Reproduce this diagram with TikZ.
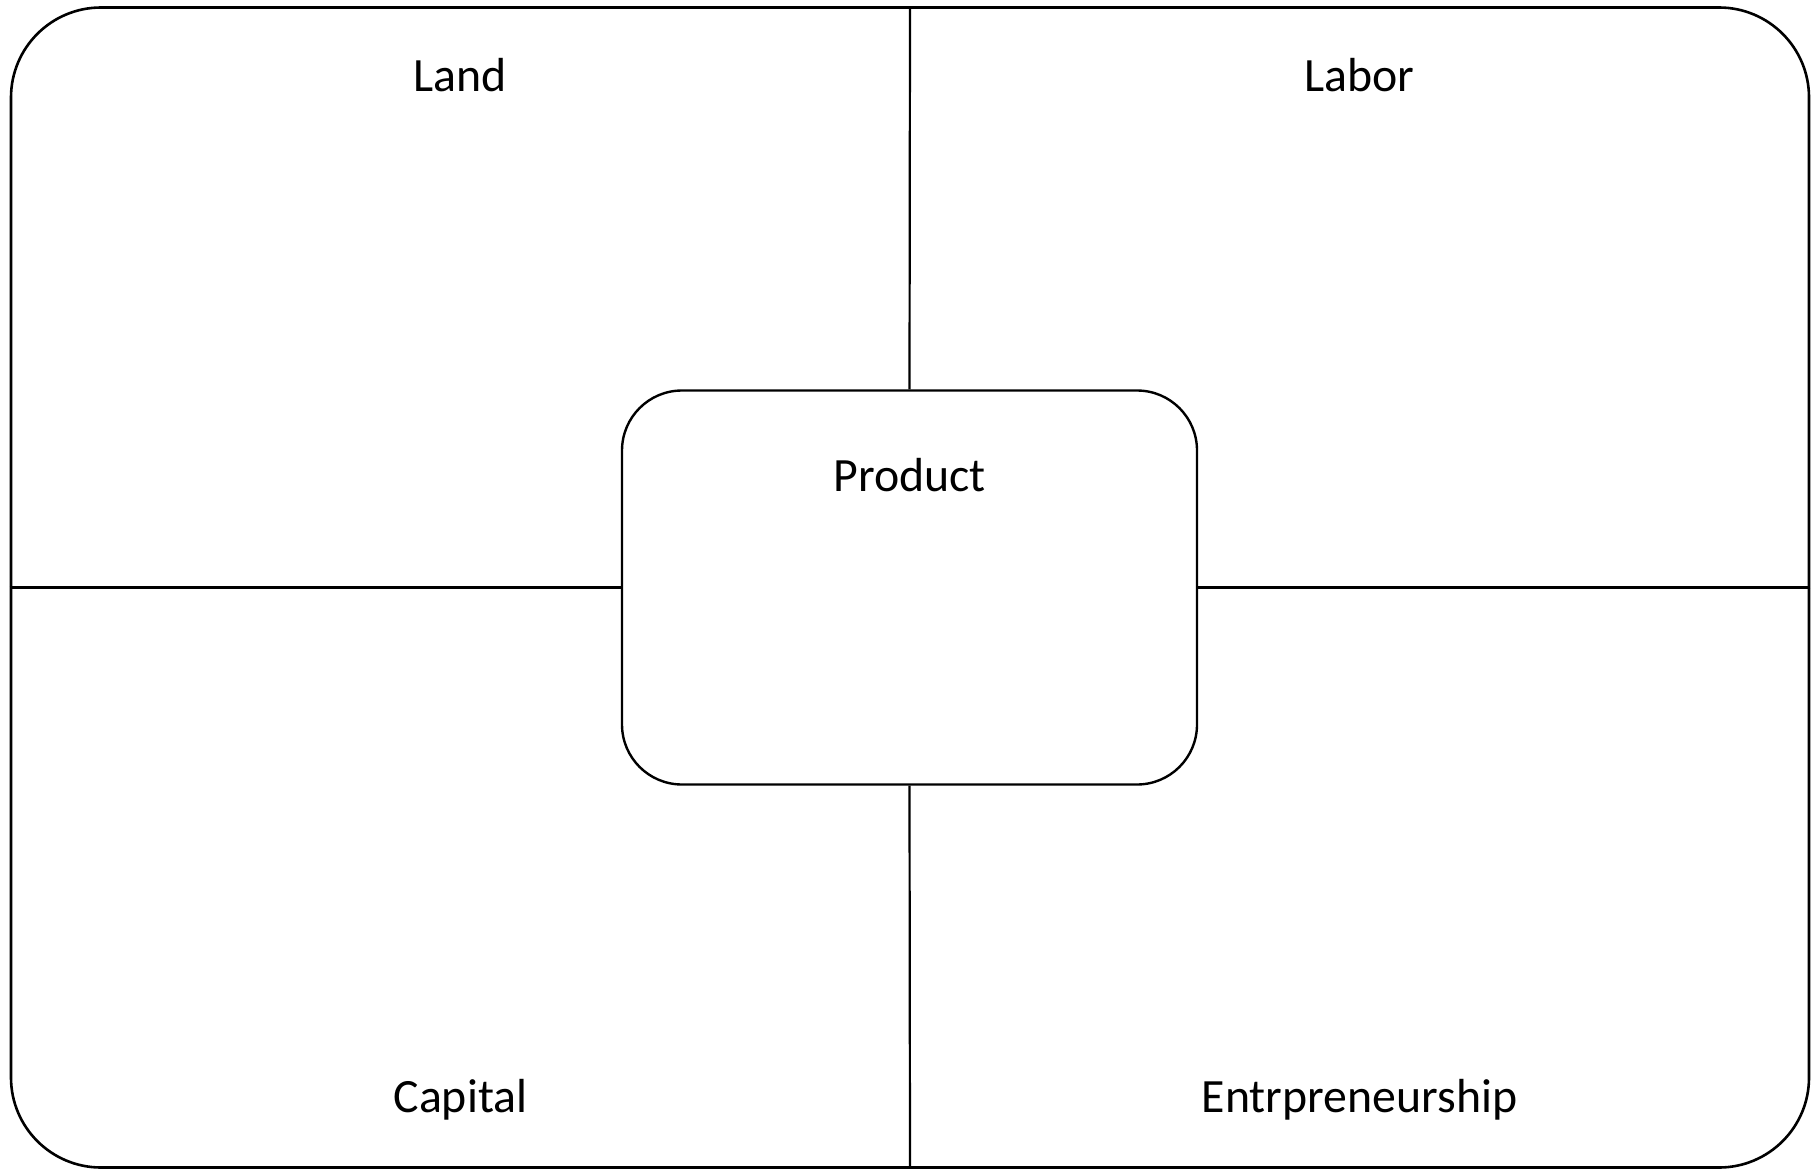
\documentclass[tikz,border=0pt]{standalone}
\usepackage{fontspec}
\setmainfont{Carlito}
\begin{document}
\begin{tikzpicture}[x=1pt,y=-1pt,
  frame/.style={draw=black,line width=2.6pt,rounded corners=90pt,minimum width=1798pt,minimum height=1160pt,inner sep=0pt},
  core/.style={draw=black,line width=2.4pt,rounded corners=60pt,minimum width=575pt,minimum height=394pt,inner sep=0pt,fill=white},
  divider/.style={draw=black,line width=2.2pt},
  label/.style={font=\fontsize{47.8}{54}\selectfont,anchor=base,inner sep=0pt}]
  \useasboundingbox (0,0) rectangle (1817,1169);
  % outer card and central product box
  \node[frame] (card) at (910,587.5) {};
  \node[core] (prod) at (909.5,587.5) {};
  % quadrant dividers from the card edges to the product box
  \draw[divider] (card.north) -- (prod.north);
  \draw[divider] (card.south) -- (prod.south);
  \draw[divider] (card.west) -- (prod.west);
  \draw[divider] (card.east) -- (prod.east);
  % quadrant titles
  \node[label] (land) at (460.5,92) {Land};
  \node[label] (labor) at (1359.5,92) {Labor};
  \node[label] (capital) at (460.5,1112) {Capital};
  \node[label] (entre) at (1359.5,1112) {Entrpreneurship};
  \node[label] (product) at (909.5,491) {Product};
\end{tikzpicture}
\end{document}
